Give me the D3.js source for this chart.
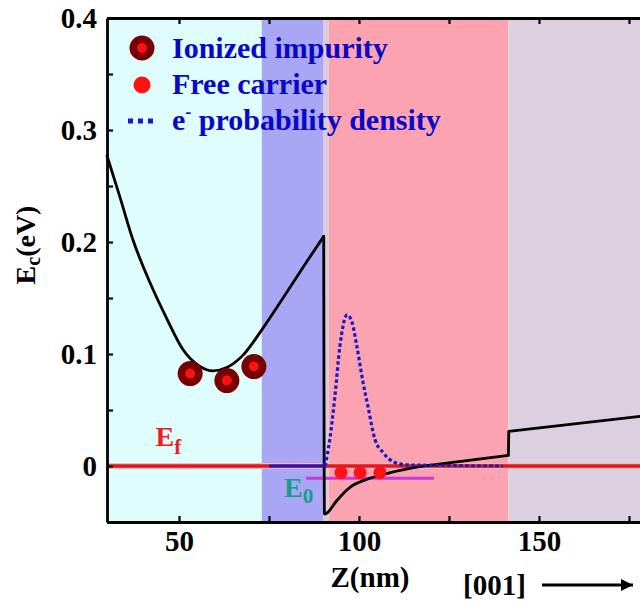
<!DOCTYPE html>
<html>
<head>
<meta charset="utf-8">
<script src="https://cdn.jsdelivr.net/npm/d3@7"></script>
<style>
  body { margin: 0; background: #fff; }
  text { font-family: "Liberation Serif", serif; font-weight: bold; }
</style>
</head>
<body>
<div id="wrapper"></div>
<script>
// data
const regionStart = [30, 73.0, 90.0, 91.6, 141.5]
const regionEnd = [73.0, 90.0, 91.6, 141.5, 180]
const regionColor = ["#e0fdfd", "#a9a6f6", "#dccbdc", "#fca3b1", "#dbcfe0"]

// conduction band, in three pieces (barrier side, well, linear tail)
const bandLeftZ = [30, 33.6, 37.2, 41.9, 46.7, 51.1, 55.8, 59.4, 63.3, 67.8, 73.1, 78.9, 85.6, 90.2]
const bandLeftE = [0.277, 0.240, 0.202, 0.164, 0.131, 0.104, 0.089, 0.085, 0.088, 0.099, 0.122, 0.150, 0.183, 0.205]
const bandWellZ = [90.2, 90.4, 91.1, 93.8, 97.5, 102.1, 106.7, 111.4, 116.0, 120.0]
const bandWellE = [0.205, -0.043, -0.042, -0.031, -0.019, -0.012, -0.0076, -0.004, -0.001, 0.0008]
const bandTailZ = [120.0, 141.5, 141.6, 180]
const bandTailE = [0.0008, 0.0095, 0.031, 0.045]

const psiZ = [75.0, 90.6, 91.9, 93.3, 94.7, 96.7, 98.1, 99.4, 101.1, 102.5, 104.4, 106.7, 109.4, 113.3, 140]
const psiE = [0, 0, 0.024, 0.062, 0.107, 0.135, 0.128, 0.107, 0.075, 0.053, 0.024, 0.012, 0.004, 0.001, 0]

const fermiE = 0
const e0Level = -0.011
const e0Range = [85.3, 120.8]

const carrierZ = [95.0, 100.3, 105.8]
const carrierE = [-0.006, -0.006, -0.006]

const impurityZ = [53.1, 63.3, 70.8]
const impurityE = [0.0825, 0.0763, 0.0888]

const xTickLabels = [50, 100, 150]
const yTickLabels = ["0", "0.1", "0.2", "0.3", "0.4"]

const legendLabels = ["Ionized impurity", "Free carrier", "probability density"]

// dimensions
let dimensions = {
  width: 640,
  height: 604,
  margin: { top: 18, right: -7, bottom: 82, left: 107 },
}
dimensions.boundedWidth = dimensions.width - dimensions.margin.left - dimensions.margin.right
dimensions.boundedHeight = dimensions.height - dimensions.margin.top - dimensions.margin.bottom

const wrapper = d3.select("#wrapper")
  .append("svg")
    .attr("width", dimensions.width)
    .attr("height", dimensions.height)

const bounds = wrapper.append("g")
  .attr("transform", `translate(${dimensions.margin.left},${dimensions.margin.top})`)

// scales
const xScale = d3.scaleLinear()
  .domain([30, 180])
  .range([0, dimensions.boundedWidth])

const yScale = d3.scaleLinear()
  .domain([-0.05, 0.4])
  .range([dimensions.boundedHeight, 0])

// background layers
bounds.selectAll("rect.region")
  .data(regionStart)
  .join("rect")
    .attr("class", "region")
    .attr("x", d => xScale(d))
    .attr("width", (d, i) => xScale(regionEnd[i]) - xScale(d))
    .attr("y", 0)
    .attr("height", dimensions.boundedHeight)
    .attr("fill", (d, i) => regionColor[i])

// Fermi level
bounds.append("line")
  .attr("x1", xScale(30)).attr("x2", xScale(180))
  .attr("y1", yScale(fermiE)).attr("y2", yScale(fermiE))
  .attr("stroke", "#f6b8b8").attr("stroke-width", 6)
bounds.append("line")
  .attr("x1", xScale(30)).attr("x2", xScale(180))
  .attr("y1", yScale(fermiE)).attr("y2", yScale(fermiE))
  .attr("stroke", "#e3161c").attr("stroke-width", 3.5)

// E0 level
bounds.append("line")
  .attr("x1", xScale(e0Range[0])).attr("x2", xScale(e0Range[1]))
  .attr("y1", yScale(e0Level)).attr("y2", yScale(e0Level))
  .attr("stroke", "#c83ad4").attr("stroke-width", 3)

// conduction band
const lineGenerator = d3.line()
  .x(d => xScale(d[0]))
  .y(d => yScale(d[1]))

const smoothLine = d3.line()
  .curve(d3.curveMonotoneX)
  .x(d => xScale(d[0]))
  .y(d => yScale(d[1]))

const zip = (zs, es) => zs.map((z, i) => [z, es[i]])

const bandPaths = [
  smoothLine(zip(bandLeftZ, bandLeftE)),
  smoothLine(zip(bandWellZ, bandWellE)),
  lineGenerator(zip(bandTailZ, bandTailE)),
]
bounds.selectAll("path.band")
  .data(bandPaths)
  .join("path")
    .attr("class", "band")
    .attr("d", d => d)
    .attr("fill", "none")
    .attr("stroke", "#000")
    .attr("stroke-width", 2.8)
    .attr("stroke-linejoin", "round")
    .attr("stroke-linecap", "round")

// electron probability density
const psi = zip(psiZ, psiE)
bounds.append("path")
  .attr("d", lineGenerator(psi.filter(d => d[0] <= 90.6)))
  .attr("fill", "none")
  .attr("stroke", "#1a1ac4")
  .attr("stroke-width", 3)
bounds.append("path")
  .attr("d", smoothLine(psi.filter(d => d[0] >= 90.6)))
  .attr("fill", "none")
  .attr("stroke", "#1a1ac4")
  .attr("stroke-width", 3.2)
  .attr("stroke-dasharray", "3.5,2.5")

// free carriers
bounds.selectAll("circle.carrier")
  .data(carrierZ)
  .join("circle")
    .attr("class", "carrier")
    .attr("cx", d => xScale(d))
    .attr("cy", (d, i) => yScale(carrierE[i]))
    .attr("r", 6.5)
    .attr("fill", "#ff1212")

// ionized impurities
const imp = bounds.selectAll("g.impurity")
  .data(impurityZ)
  .join("g")
    .attr("class", "impurity")
    .attr("transform", (d, i) => `translate(${xScale(d)},${yScale(impurityE[i])})`)
imp.append("circle").attr("r", 12.5).attr("fill", "#780000")
imp.append("circle").attr("r", 5).attr("fill", "#ff1010")

// level labels
const ef = bounds.append("text")
  .attr("x", xScale(43.5)).attr("y", yScale(0.0175))
  .attr("fill", "#ee1c24").style("font-size", "28px")
ef.append("tspan").text("E")
ef.append("tspan").attr("dy", 8).style("font-size", "21px").text("f")

const e0 = bounds.append("text")
  .attr("x", xScale(79.2)).attr("y", yScale(-0.0275))
  .attr("fill", "#169c8e").style("font-size", "28px")
e0.append("tspan").text("E")
e0.append("tspan").attr("dy", 6).style("font-size", "21px").text("0")

// axes
const xAxisGenerator = d3.axisBottom(xScale)
  .tickValues(d3.range(50, 180, 25))
  .tickSizeInner(-6)
  .tickSizeOuter(0)
  .tickPadding(8)
  .tickFormat(d => xTickLabels.includes(d) ? d : "")

const xAxis = bounds.append("g")
  .attr("transform", `translate(0,${dimensions.boundedHeight})`)
  .call(xAxisGenerator)

const topAxis = bounds.append("g")
  .call(d3.axisTop(xScale)
    .tickValues(d3.range(50, 180, 25))
    .tickSizeInner(-6)
    .tickSizeOuter(0)
    .tickFormat(""))

const yAxisGenerator = d3.axisLeft(yScale)
  .tickValues(d3.range(-0.05, 0.41, 0.05))
  .tickSizeInner(-6)
  .tickSizeOuter(0)
  .tickPadding(10)
  .tickFormat(d => {
    const s = d3.format(".1f")(d).replace(/^0\.0$/, "0")
    return yTickLabels.includes(s) && Math.abs(Math.round(d * 100) % 10) === 0 ? s : ""
  })

const yAxis = bounds.append("g").call(yAxisGenerator)

;[xAxis, topAxis, yAxis].forEach(ax => {
  ax.select(".domain").attr("stroke", "#000").attr("stroke-width", 2.8)
  ax.selectAll(".tick line").attr("stroke", "#000").attr("stroke-width", 2.2)
  ax.selectAll(".tick text")
    .attr("fill", "#000")
    .style("font-family", "'Liberation Serif', serif")
    .style("font-weight", "bold")
    .style("font-size", "29px")
})

// axis titles
const yTitle = wrapper.append("text")
  .attr("transform", "translate(35,245) rotate(-90)")
  .attr("text-anchor", "middle")
  .style("font-size", "28px")
yTitle.append("tspan").text("E")
yTitle.append("tspan").attr("dy", 5).style("font-size", "20px").text("c")
yTitle.append("tspan").attr("dy", -5).text("(eV)")

wrapper.append("text")
  .attr("x", 370).attr("y", 587)
  .attr("text-anchor", "middle")
  .style("font-size", "29px")
  .text("Z(nm)")

wrapper.append("text")
  .attr("x", 463).attr("y", 595)
  .style("font-size", "29px")
  .text("[001]")

wrapper.append("defs").append("marker")
  .attr("id", "arrow")
  .attr("viewBox", "0 0 10 10")
  .attr("refX", 10).attr("refY", 5)
  .attr("markerWidth", 5).attr("markerHeight", 4)
  .attr("markerUnits", "strokeWidth")
  .attr("orient", "auto")
  .append("path").attr("d", "M0,0L10,5L0,10z").attr("fill", "#000")

wrapper.append("line")
  .attr("x1", 542).attr("x2", 633)
  .attr("y1", 585).attr("y2", 585)
  .attr("stroke", "#000").attr("stroke-width", 3)
  .attr("marker-end", "url(#arrow)")

// legend
const legend = wrapper.append("g").attr("transform", "translate(142,48)")
const rowGap = 36

legend.append("circle").attr("r", 12.5).attr("fill", "#780000")
legend.append("circle").attr("r", 5).attr("fill", "#ff1010")
legend.append("circle").attr("cy", rowGap + 1).attr("r", 8.5).attr("fill", "#ff1212")
legend.append("line")
  .attr("x1", -14).attr("x2", 12)
  .attr("y1", 2 * rowGap + 1).attr("y2", 2 * rowGap + 1)
  .attr("stroke", "#1a1ac4").attr("stroke-width", 5)
  .attr("stroke-dasharray", "5,5")

legend.selectAll("text.legend-label")
  .data(legendLabels)
  .join("text")
    .attr("class", "legend-label")
    .attr("x", 30)
    .attr("y", (d, i) => 10 + i * rowGap)
    .attr("fill", "#0808c8")
    .style("font-size", "30px")
    .each(function(d, i) {
      const t = d3.select(this)
      if (i === 2) {
        t.append("tspan").text("e")
        t.append("tspan").attr("dy", -12).style("font-size", "18px").text("-")
        t.append("tspan").attr("dy", 12).text(" " + d)
      } else {
        t.text(d)
      }
    })
</script>
</body>
</html>
